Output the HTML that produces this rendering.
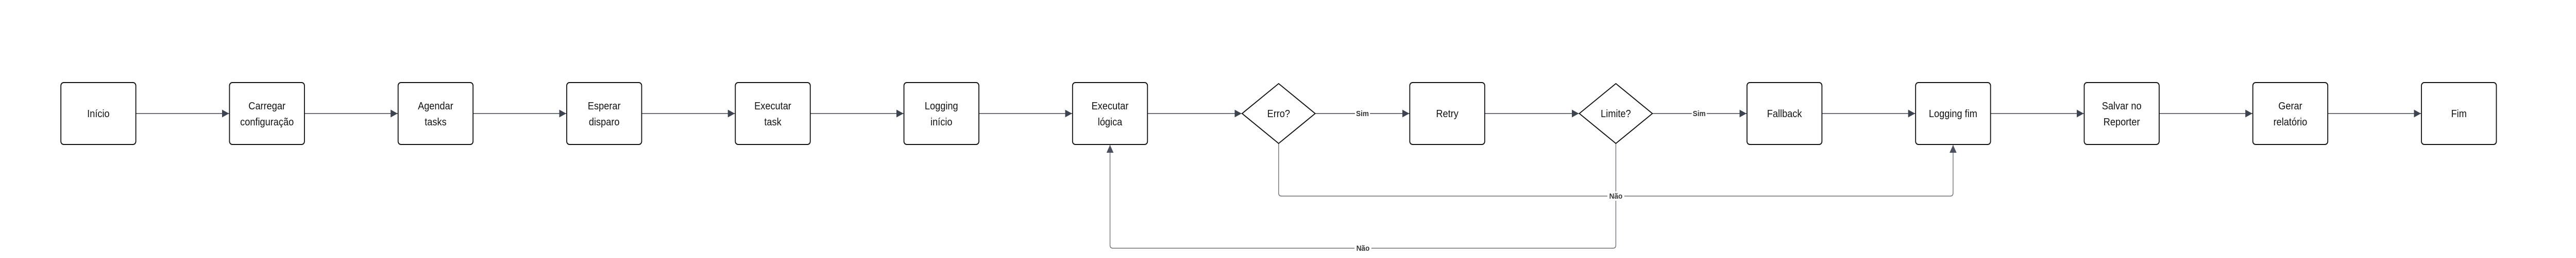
<!DOCTYPE html>
<html><head><meta charset="utf-8"><style>
html,body{margin:0;padding:0;background:#fff;overflow:hidden;}
svg{display:block;width:100vw;height:500px;}
text{font-family:"Liberation Sans",sans-serif;}
.n{font-size:20px;fill:#111;text-anchor:middle;}
.l{font-size:15px;font-weight:bold;fill:#333;text-anchor:middle;}
</style></head><body>
<svg viewBox="0 0 5500 500" preserveAspectRatio="none" xmlns="http://www.w3.org/2000/svg">
<defs>
<marker id="a" viewBox="0 0 10 10" refX="10" refY="5" markerWidth="15" markerHeight="15" markerUnits="userSpaceOnUse" orient="auto"><path d="M0,0L10,5L0,10z" fill="#3d4451"/></marker>
<marker id="g" viewBox="0 0 10 10" refX="10" refY="5" markerWidth="15" markerHeight="15" markerUnits="userSpaceOnUse" orient="auto"><path d="M0,0L10,5L0,10z" fill="#4a5060"/></marker>
</defs>
<g stroke="#3d4451" stroke-width="1.5" fill="none" marker-end="url(#a)">
<line x1="290" y1="220" x2="489" y2="220"/>
<line x1="650" y1="220" x2="849" y2="220"/>
<line x1="1010" y1="220" x2="1209" y2="220"/>
<line x1="1370" y1="220" x2="1569" y2="220"/>
<line x1="1730" y1="220" x2="1929" y2="220"/>
<line x1="2090" y1="220" x2="2289" y2="220"/>
<line x1="2450" y1="220" x2="2651" y2="220"/>
<line x1="2808" y1="220" x2="3009" y2="220"/>
<line x1="3170" y1="220" x2="3371" y2="220"/>
<line x1="3528" y1="220" x2="3729" y2="220"/>
<line x1="3890" y1="220" x2="4089" y2="220"/>
<line x1="4250" y1="220" x2="4449" y2="220"/>
<line x1="4610" y1="220" x2="4809" y2="220"/>
<line x1="4970" y1="220" x2="5169" y2="220"/>
</g>
<g stroke="#6b6f76" stroke-width="1.5" fill="none" marker-end="url(#g)">
<path d="M2730,278 V374 Q2730,380 2736,380 H4164 Q4170,380 4170,374 V281"/>
<path d="M3450,278 V475 Q3450,481 3444,481 H2376 Q2370,481 2370,475 V281"/>
</g>
<g fill="#fff" stroke="#111" stroke-width="2">
<rect x="130" y="160" width="160" height="120" rx="6"/>
<rect x="490" y="160" width="160" height="120" rx="6"/>
<rect x="850" y="160" width="160" height="120" rx="6"/>
<rect x="1210" y="160" width="160" height="120" rx="6"/>
<rect x="1570" y="160" width="160" height="120" rx="6"/>
<rect x="1930" y="160" width="160" height="120" rx="6"/>
<rect x="2290" y="160" width="160" height="120" rx="6"/>
<path d="M2730,162 L2808,220 L2730,278 L2652,220 Z" stroke-linejoin="round"/>
<rect x="3010" y="160" width="160" height="120" rx="6"/>
<path d="M3450,162 L3528,220 L3450,278 L3372,220 Z" stroke-linejoin="round"/>
<rect x="3730" y="160" width="160" height="120" rx="6"/>
<rect x="4090" y="160" width="160" height="120" rx="6"/>
<rect x="4450" y="160" width="160" height="120" rx="6"/>
<rect x="4810" y="160" width="160" height="120" rx="6"/>
<rect x="5170" y="160" width="160" height="120" rx="6"/>
</g>
<g>
<text class="n" x="210" y="227">Início</text>
<text class="n" x="570" y="212">Carregar</text><text class="n" x="570" y="243">configuração</text>
<text class="n" x="930" y="212">Agendar</text><text class="n" x="930" y="243">tasks</text>
<text class="n" x="1290" y="212">Esperar</text><text class="n" x="1290" y="243">disparo</text>
<text class="n" x="1650" y="212">Executar</text><text class="n" x="1650" y="243">task</text>
<text class="n" x="2010" y="212">Logging</text><text class="n" x="2010" y="243">início</text>
<text class="n" x="2370" y="212">Executar</text><text class="n" x="2370" y="243">lógica</text>
<text class="n" x="2730" y="227">Erro?</text>
<text class="n" x="3090" y="227">Retry</text>
<text class="n" x="3450" y="227">Limite?</text>
<text class="n" x="3810" y="227">Fallback</text>
<text class="n" x="4170" y="227">Logging fim</text>
<text class="n" x="4530" y="212">Salvar no</text><text class="n" x="4530" y="243">Reporter</text>
<text class="n" x="4890" y="212">Gerar</text><text class="n" x="4890" y="243">relatório</text>
<text class="n" x="5250" y="227">Fim</text>
</g>
<g>
<rect x="2893" y="211" width="32" height="18" fill="#fff"/><text class="l" x="2909" y="225">Sim</text>
<rect x="3612" y="211" width="32" height="18" fill="#fff"/><text class="l" x="3628" y="225">Sim</text>
<rect x="3432" y="371" width="36" height="18" fill="#fff"/><text class="l" x="3450" y="385">Não</text>
<rect x="2892" y="472" width="36" height="18" fill="#fff"/><text class="l" x="2910" y="486">Não</text>
</g>
</svg>
</body></html>
